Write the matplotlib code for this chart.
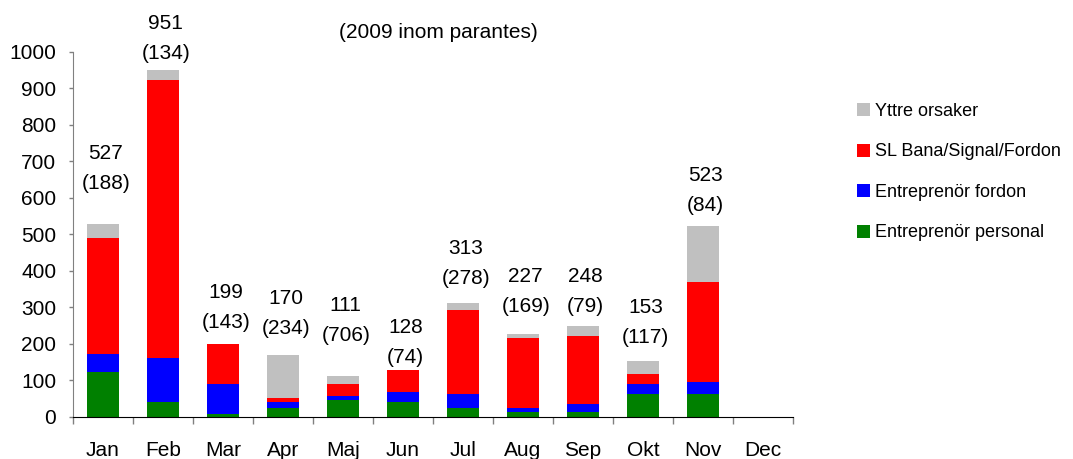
import matplotlib
matplotlib.use("Agg")
import matplotlib.pyplot as plt
from matplotlib.patches import Patch
import numpy as np

plt.rcParams['font.family'] = ['Liberation Sans', 'DejaVu Sans']

months = ['Jan', 'Feb', 'Mar', 'Apr', 'Maj', 'Jun', 'Jul', 'Aug', 'Sep', 'Okt', 'Nov', 'Dec']
personal = [123, 41, 8, 25, 47, 42, 25, 14, 15, 64, 64, 0]
fordon = [50, 120, 82, 16, 10, 27, 39, 11, 21, 27, 32, 0]
sl_bana = [316, 761, 109, 11, 33, 59, 229, 190, 187, 27, 273, 0]
yttre = [38, 29, 0, 118, 21, 0, 20, 12, 25, 35, 154, 0]
totals = [527, 951, 199, 170, 111, 128, 313, 227, 248, 153, 523]
totals_2009 = [188, 134, 143, 234, 706, 74, 278, 169, 79, 117, 84]
# height (data units) of the lower label line, as placed in the original
label_y = [640, 995, 259, 243, 223, 163, 379, 302, 302, 218, 578]

series = [
    ('Entreprenör personal', personal, '#008000'),
    ('Entreprenör fordon', fordon, '#0000FF'),
    ('SL Bana/Signal/Fordon', sl_bana, '#FF0000'),
    ('Yttre orsaker', yttre, '#C0C0C0'),
]

fig = plt.figure(figsize=(10.73, 4.59), dpi=100)
ax = fig.add_axes([73 / 1073, 1 - 417 / 459, 720 / 1073, 365.3 / 459])

x = np.arange(len(months))
bottom = np.zeros(len(months))
handles = []
for name, vals, col in series:
    ax.bar(x, vals, width=0.52, bottom=bottom, color=col, linewidth=0)
    bottom += np.array(vals)
    handles.append(Patch(facecolor=col, label=name))

for i in range(len(totals)):
    ax.annotate('(%d)' % totals_2009[i], (x[i], label_y[i]), xytext=(2, 0),
                textcoords='offset points', ha='center', va='center',
                fontsize=15, annotation_clip=False)
    ax.annotate(str(totals[i]), (x[i], label_y[i]), xytext=(2, 21.6),
                textcoords='offset points', ha='center', va='center',
                fontsize=15, annotation_clip=False)

ax.set_xlim(-0.5, 11.5)
ax.set_ylim(0, 1000)
ax.set_yticks(range(0, 1001, 100))
ax.set_xticks(np.arange(-0.5, 12, 1))
ax.set_xticklabels([])
ax.set_xticks(x, minor=True)
ax.set_xticklabels(months, minor=True)
ax.tick_params(axis='x', which='major', length=5, color='#808080', width=1)
ax.tick_params(axis='x', which='minor', length=0, pad=17.5, labelsize=15)
ax.tick_params(axis='y', length=3, color='#808080', width=1, pad=9, labelsize=15)

ax.spines['top'].set_visible(False)
ax.spines['right'].set_visible(False)
ax.spines['left'].set_color('#808080')
ax.spines['bottom'].set_color('black')

fig.text(438 / 1073, 1 - 33 / 459, '(2009 inom parantes)', ha='center', va='center', fontsize=15)

fig.legend(handles=handles[::-1], loc='upper left', bbox_to_anchor=(857 / 1073, 1 - 103 / 459),
           bbox_transform=fig.transFigure, frameon=False, fontsize=13,
           handlelength=0.72, handleheight=0.72, handletextpad=0.25,
           labelspacing=1.3, borderpad=0, borderaxespad=0)

fig.savefig('out.png', dpi=100)
